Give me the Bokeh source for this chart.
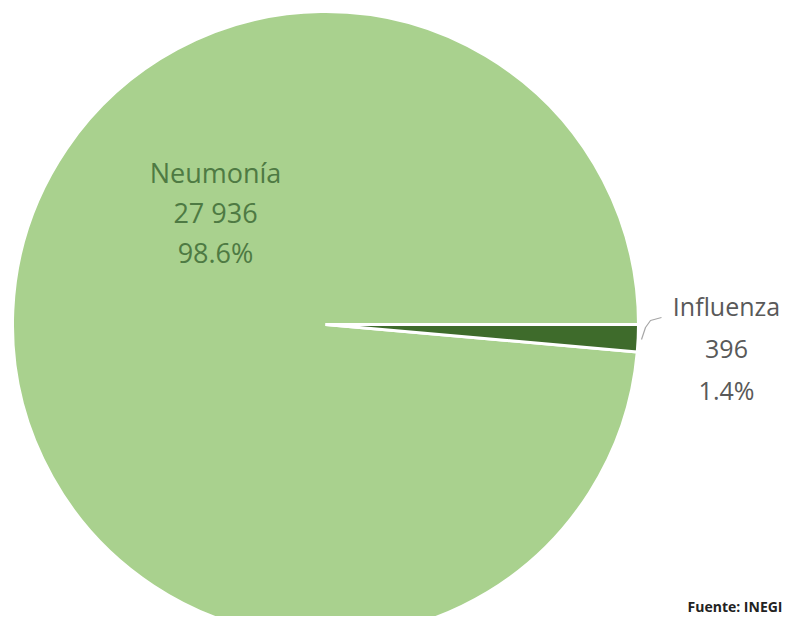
import math
from bokeh.plotting import figure
from bokeh.models import Range1d, ColumnDataSource
from bokeh.core.properties import value
from bokeh.embed import file_html
from bokeh.resources import INLINE

categories = ["Neumonía", "Influenza"]
counts = [27936, 396]
count_labels = ["27 936", "396"]
pct_labels = ["98.6%", "1.4%"]
colors = ["#a9d18e", "#3e6b2b"]

W, H = 785, 616
# data coords: x = screen x, y = 632 - screen y
p = figure(width=W, height=H, output_backend="svg", toolbar_location=None,
           x_range=Range1d(0, W), y_range=Range1d(632 - H, 632),
           min_border=0)
p.axis.visible = False
p.grid.visible = False
p.outline_line_color = None
p.background_fill_color = "white"

cx, cy, r = 325, 632 - 324, 313
total = sum(counts)
frac_infl = counts[1] / total
start = [0.0, -frac_infl * 2 * math.pi]
end = [2 * math.pi - frac_infl * 2 * math.pi, 0.0]
src = ColumnDataSource(dict(x=[cx, cx], y=[cy, cy], start=start, end=end,
                            color=colors, cat=categories))
p.wedge(x="x", y="y", radius=r, start_angle="start", end_angle="end",
        fill_color="color", line_color="white", line_width=3, source=src)

# leader line
p.line(x=[641, 645, 650, 661], y=[632 - 339, 632 - 327, 632 - 320, 632 - 317],
       line_color="#a6a6a6", line_width=1.2)

font = value("Open Sans")
# Neumonía label
p.text(x=[215] * 3, y=[632 - 172, 632 - 212, 632 - 252],
       text=[categories[0], count_labels[0], pct_labels[0]],
       text_font=font, text_font_size="27px", text_color="#4e7a43",
       text_align="center", text_baseline="middle")
# Influenza label
p.text(x=[726] * 3, y=[632 - 305, 632 - 348, 632 - 389],
       text=[categories[1], count_labels[1], pct_labels[1]],
       text_font=font, text_font_size="25px", text_color="#595959",
       text_align="center", text_baseline="middle")
# source
p.text(x=[782], y=[632 - 606], text=["Fuente: INEGI"], text_font=font,
       text_font_size="14px", text_font_style="bold", text_color="#222222",
       text_align="right", text_baseline="middle")

open("out.html", "w").write(file_html(p, INLINE))
